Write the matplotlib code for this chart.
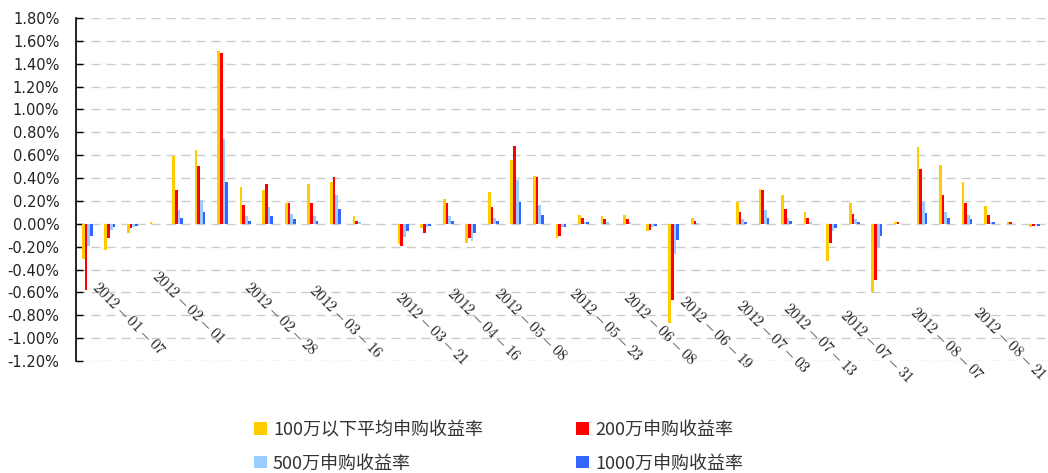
import matplotlib
matplotlib.use('Agg')
import matplotlib.pyplot as plt
import numpy as np

plt.rcParams['mathtext.fontset'] = 'cm'

# returns per purchase size, in percent
s100 = [-0.31, -0.23, -0.08, 0.015, 0.59, 0.645, 1.51, 0.32, 0.295, 0.18, 0.35,
        0.365, 0.065, 0, -0.18, -0.04, 0.215, -0.17, 0.28, 0.56, 0.42, -0.12,
        0.075, 0.065, 0.075, -0.065, -0.87, 0.05, 0, 0.19, 0.305, 0.25, 0.10,
        -0.325, 0.18, -0.60, 0.02, 0.67, 0.515, 0.365, 0.155, 0.02, -0.03]
s200 = [-0.58, -0.12, -0.04, 0, 0.295, 0.505, 1.49, 0.165, 0.345, 0.18, 0.18,
        0.41, 0.025, 0, -0.195, -0.08, 0.18, -0.12, 0.145, 0.68, 0.41, -0.11,
        0.05, 0.04, 0.04, -0.055, -0.665, 0.025, 0, 0.10, 0.295, 0.13, 0.05,
        -0.17, 0.09, -0.49, 0.015, 0.48, 0.25, 0.18, 0.075, 0.015, -0.015]
s500 = [-0.195, -0.05, -0.03, 0, 0.12, 0.205, 0.74, 0.065, 0.145, 0.09, 0.065,
        0.25, 0.015, 0, -0.115, -0.03, 0.065, -0.15, 0.05, 0.38, 0.165, -0.03,
        0.02, 0.015, 0.015, -0.03, -0.265, 0.005, 0, 0.04, 0.12, 0.05, 0.015,
        -0.065, 0.04, -0.205, 0, 0.19, 0.10, 0.075, 0.02, 0, -0.01]
s1000 = [-0.11, -0.03, -0.015, 0, 0.05, 0.105, 0.365, 0.025, 0.065, 0.04, 0.025,
         0.13, 0, 0, -0.065, -0.015, 0.025, -0.08, 0.025, 0.19, 0.075, -0.03,
         0.015, 0, 0, -0.015, -0.145, 0, 0, 0.015, 0.05, 0.025, 0, -0.04, 0.015,
         -0.11, 0, 0.095, 0.05, 0.04, 0.015, 0, -0.015]

series = [s100, s200, s500, s1000]
names = ['100万以下平均申购收益率', '200万申购收益率', '500万申购收益率', '1000万申购收益率']
colors = ['#FFCC00', '#FF0000', '#99CCFF', '#3366FF']

date_labels = ['2012-01-07', '2012-02-01', '2012-02-28', '2012-03-16', '2012-03-21',
               '2012-04-16', '2012-05-08', '2012-05-23', '2012-06-08', '2012-06-19',
               '2012-07-03', '2012-07-13', '2012-07-31', '2012-08-07', '2012-08-21']
# where the date labels sit (category units / percent)
label_x = [0.55, 3.2, 7.3, 10.2, 14.0, 16.3, 18.4, 21.7, 24.1, 26.6, 29.1, 31.2, 33.7, 36.8, 39.6]
label_y = [-0.48, -0.39, -0.48, -0.51, -0.57, -0.54, -0.54, -0.54, -0.57, -0.61,
           -0.64, -0.67, -0.73, -0.70, -0.70]

fig = plt.figure(figsize=(10.48, 4.73), dpi=100)
ax = fig.add_axes([76/1048, 1-361/473, (1046-76)/1048, (361-18)/473])

x = np.arange(len(s100))
w = 0.12
bars = []
for i, (vals, c) in enumerate(zip(series, colors)):
    b = ax.bar(x + (i - 1.5)*w, vals, width=w, color=c, linewidth=0, zorder=3)
    bars.append(b)

ax.set_xlim(-0.5, len(s100) - 0.5)
ax.set_ylim(-1.2, 1.8)
yt = np.arange(-1.2, 1.81, 0.2)
ax.set_yticks(yt)
ax.set_yticklabels(['%.2f%%' % v if abs(v) > 1e-9 else '0.00%' for v in yt],
                   fontsize=10.5, color='#222222')
ax.tick_params(axis='y', direction='in', length=5, width=1, color='black', pad=12)
ax.set_xticks([])
ax.yaxis.grid(True, linestyle=(0, (6.5, 4.3)), color='#cccccc', linewidth=1.0, zorder=0)
ax.set_axisbelow(True)
for s in ['top', 'right', 'bottom']:
    ax.spines[s].set_visible(False)
ax.spines['left'].set_linewidth(1.2)

for lx, ly, lab in zip(label_x, label_y, date_labels):
    ax.text(lx, ly, '$' + lab + '$', rotation=-45, rotation_mode='anchor',
            ha='left', va='top', fontsize=11, color='#222222', clip_on=False)

order = [0, 2, 1, 3]
fig.legend([bars[i] for i in order], [names[i] for i in order],
           loc='upper left', bbox_to_anchor=(254/1048, 1-421/473), ncol=2,
           frameon=False, borderaxespad=0, borderpad=0, handlelength=0.7,
           handleheight=0.7, handletextpad=0.35, columnspacing=5.15,
           labelspacing=0.85, prop={'family': ['Noto Sans CJK SC', 'DejaVu Sans'], 'size': 13},
           labelcolor='#333333')

fig.savefig('out.png', dpi=100)
